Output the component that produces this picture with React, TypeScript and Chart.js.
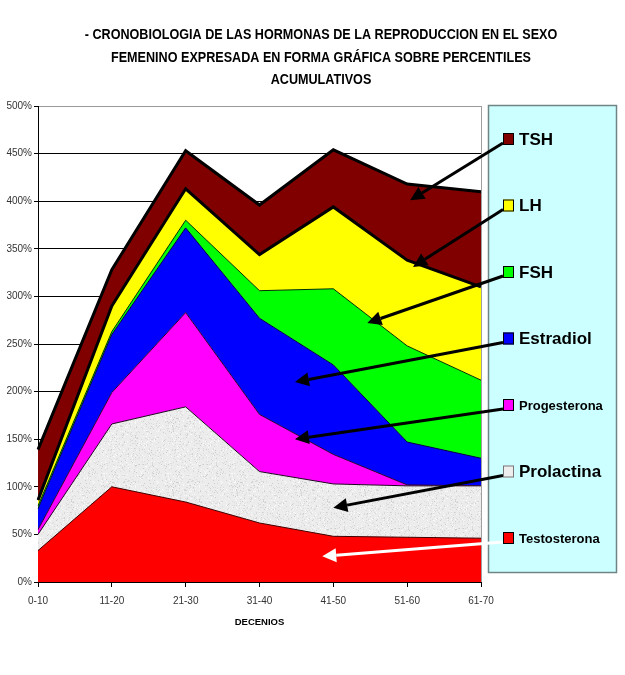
import React, { useEffect, useRef } from 'react';
import { Chart, registerables } from 'chart.js';

Chart.register(...registerables);

// ---- data ----
const decenios = ['0-10', '11-20', '21-30', '31-40', '41-50', '51-60', '61-70'];
const testosterona = [33, 100, 84, 62, 48, 47, 46];
const prolactina = [17, 66, 100, 54, 55, 54, 55];
const progesterona = [5, 33, 99, 60, 31, 1, 0];
const estradiol = [22, 61, 89, 101, 94, 45, 29];
const fsh = [3, 3, 8, 29, 80, 101, 82];
const lh = [6, 27, 33, 38, 86, 90, 98];
const tsh = [53, 38, 40, 52, 60, 80, 100];

const yMax = 500;
const yStep = 50;

const titleLines = [
  '- CRONOBIOLOGIA DE LAS HORMONAS DE LA REPRODUCCION EN EL SEXO',
  'FEMENINO EXPRESADA EN FORMA GRÁFICA SOBRE PERCENTILES',
  'ACUMULATIVOS',
];
const xTitle = 'DECENIOS';

// legend labels, top to bottom
const legendNames = ['TSH', 'LH', 'FSH', 'Estradiol', 'Progesterona', 'Prolactina', 'Testosterona'];
const legendBig = [true, true, true, true, false, true, false];
// arrow tips in data coordinates: [category index, cumulative %]
const arrowTargets: [number, number][] = [
  [5.04, 401],
  [5.08, 331],
  [4.46, 272],
  [3.48, 210],
  [3.48, 150],
  [4.0, 78],
  [3.85, 27],
];

function makeSpeckle(): CanvasPattern | string {
  const pc = document.createElement('canvas');
  pc.width = 64;
  pc.height = 64;
  const p = pc.getContext('2d');
  if (!p) return '#ececec';
  p.fillStyle = '#ececec';
  p.fillRect(0, 0, 64, 64);
  let seed = 12345;
  const rnd = () => {
    seed = (seed * 1103515245 + 12345) & 0x7fffffff;
    return seed / 0x7fffffff;
  };
  for (let i = 0; i < 800; i++) {
    const x = Math.floor(rnd() * 64);
    const y = Math.floor(rnd() * 64);
    const t = rnd();
    p.fillStyle = t < 0.45 ? '#dadada' : t < 0.85 ? '#f9f9f9' : '#cdcdcd';
    p.fillRect(x, y, 1, 1);
  }
  const pat = p.createPattern(pc, 'repeat');
  return pat || '#ececec';
}

export default function App() {
  const ref = useRef<HTMLCanvasElement | null>(null);

  useEffect(() => {
    const canvas = ref.current;
    if (!canvas) return;
    const sf = '"Liberation Sans", Arial, sans-serif';
    const speckle = makeSpeckle();

    const series = [
      { label: 'Testosterona', data: testosterona, bg: '#ff0000', bc: '#400000', bw: 1 },
      { label: 'Prolactina', data: prolactina, bg: speckle, bc: '#200020', bw: 1 },
      { label: 'Progesterona', data: progesterona, bg: '#ff00ff', bc: '#300030', bw: 1 },
      { label: 'Estradiol', data: estradiol, bg: '#0000ff', bc: '#000040', bw: 1 },
      { label: 'FSH', data: fsh, bg: '#00ff00', bc: '#003000', bw: 1 },
      { label: 'LH', data: lh, bg: '#ffff00', bc: '#000000', bw: 3 },
      { label: 'TSH', data: tsh, bg: '#800000', bc: '#000000', bw: 3 },
    ];
    const legendColors = ['#800000', '#ffff00', '#00ff00', '#0000ff', '#ff00ff', '#eeeeee', '#ff0000'];

    const decor = {
      id: 'decor',
      beforeDatasetsDraw(chart: any) {
        const { ctx, chartArea } = chart;
        ctx.save();
        ctx.strokeStyle = '#a0a0a0';
        ctx.lineWidth = 1;
        ctx.beginPath();
        ctx.moveTo(Math.round(chartArea.right) + 0.5, chartArea.top);
        ctx.lineTo(Math.round(chartArea.right) + 0.5, chartArea.bottom);
        ctx.stroke();
        ctx.restore();
      },
      afterDraw(chart: any) {
        const { ctx, chartArea, scales } = chart;
        ctx.save();
        // title (horizontally condensed to mimic a narrow bold face)
        ctx.fillStyle = '#000';
        ctx.font = `bold 15px ${sf}`;
        ctx.textAlign = 'center';
        ctx.textBaseline = 'middle';
        titleLines.forEach((t, i) => {
          ctx.save();
          ctx.translate(321, 35 + i * 22.5);
          ctx.scale(0.84, 1);
          ctx.fillText(t, 0, 0);
          ctx.restore();
        });

        // legend box
        const bx = chartArea.right + 7;
        const by = 105;
        const bw = 128;
        const bh = 467;
        ctx.fillStyle = '#ccffff';
        ctx.fillRect(bx, by, bw, bh);
        ctx.strokeStyle = '#6f8585';
        ctx.lineWidth = 1.5;
        ctx.strokeRect(bx + 0.5, by + 0.5, bw, bh);

        const sqX = bx + 15;
        const items = legendNames.map((n, i) => ({ n, i, cy: 139 + i * 66.5 }));

        // arrows
        items.forEach(({ i, cy }) => {
          const [xv, yv] = arrowTargets[i];
          const tx = scales.x.getPixelForValue(xv);
          const ty = scales.y.getPixelForValue(yv);
          const sx = sqX;
          const sy = cy + 4;
          const col = i === 6 ? '#ffffff' : '#000000';
          const ang = Math.atan2(ty - sy, tx - sx);
          const hl = 14;
          const hw = 7;
          const bxp = tx - hl * Math.cos(ang);
          const byp = ty - hl * Math.sin(ang);
          ctx.strokeStyle = col;
          ctx.fillStyle = col;
          ctx.lineWidth = 3;
          ctx.lineCap = 'butt';
          ctx.beginPath();
          ctx.moveTo(sx, sy);
          ctx.lineTo(bxp, byp);
          ctx.stroke();
          ctx.beginPath();
          ctx.moveTo(tx, ty);
          ctx.lineTo(bxp + hw * Math.sin(ang), byp - hw * Math.cos(ang));
          ctx.lineTo(bxp - hw * Math.sin(ang), byp + hw * Math.cos(ang));
          ctx.closePath();
          ctx.fill();
        });

        // legend squares and labels
        items.forEach(({ n, i, cy }) => {
          ctx.fillStyle = legendColors[i];
          ctx.fillRect(sqX, cy - 6, 11, 12);
          ctx.strokeStyle = i === 5 ? '#777' : '#000';
          ctx.lineWidth = 1;
          ctx.strokeRect(sqX + 0.5, cy - 5.5, 10, 11);
          ctx.fillStyle = '#000';
          ctx.font = legendBig[i] ? `bold 17px ${sf}` : `bold 13px ${sf}`;
          ctx.textAlign = 'left';
          ctx.textBaseline = 'middle';
          ctx.fillText(n, sqX + 16, cy + 1);
        });
        ctx.restore();
      },
    };

    const chart = new Chart(canvas, {
      type: 'line',
      data: {
        labels: decenios,
        datasets: series.map((s, i) => ({
          label: s.label,
          data: s.data,
          backgroundColor: s.bg as any,
          borderColor: s.bc,
          borderWidth: s.bw,
          fill: i === 0 ? 'origin' : '-1',
          pointRadius: 0,
          pointHoverRadius: 0,
          tension: 0,
          borderJoinStyle: 'miter',
        })),
      },
      options: {
        responsive: false,
        animation: false,
        devicePixelRatio: 1,
        layout: { padding: { left: 0, right: 144, top: 106, bottom: 47 } },
        plugins: {
          legend: { display: false },
          title: { display: false },
          tooltip: { enabled: false },
        },
        scales: {
          x: {
            type: 'category',
            offset: false,
            grid: { drawOnChartArea: false, drawTicks: true, tickLength: 5, color: '#000' },
            border: { color: '#000', width: 1 },
            ticks: {
              padding: 8,
              color: '#333',
              font: { family: sf, size: 10 },
              maxRotation: 0,
              autoSkip: false,
            },
            title: {
              display: true,
              text: xTitle,
              color: '#000',
              font: { family: sf, size: 9.5, weight: 'bold' },
              padding: { top: 4, bottom: 0 },
            },
            afterFit: (s: any) => {
              s.height = 46;
            },
          },
          y: {
            stacked: true,
            min: 0,
            max: yMax,
            ticks: {
              stepSize: yStep,
              padding: 2,
              color: '#333',
              font: { family: sf, size: 10 },
              callback: (v: any) => `${v}%`,
            },
            grid: {
              color: (c: any) => (c.tick && c.tick.value === yMax ? '#9a9a9a' : '#000'),
              tickColor: '#000',
              tickLength: 4,
              lineWidth: 1,
            },
            border: { color: '#000', width: 1 },
            afterFit: (s: any) => {
              s.width = 38;
            },
          },
        },
      },
      plugins: [decor],
    });

    return () => chart.destroy();
  }, []);

  return (
    <div style={{ position: 'absolute', left: 0, top: 0, width: 625, height: 675, background: '#fff' }}>
      <canvas ref={ref} width={625} height={675} style={{ width: 625, height: 675, display: 'block' }} />
    </div>
  );
}
